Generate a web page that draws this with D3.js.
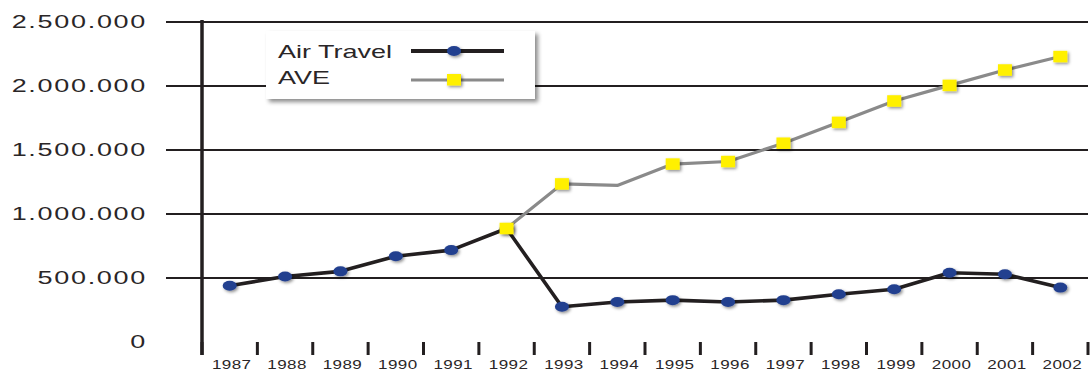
<!DOCTYPE html>
<html>
<head>
<meta charset="utf-8">
<script src="https://cdn.jsdelivr.net/npm/d3@7"></script>
<style>
  html, body { margin: 0; padding: 0; background: #fff; }
  svg { display: block; }
  text { font-family: "Liberation Sans", Arial, sans-serif; fill: #2a2627; }
</style>
</head>
<body>
<svg id="chart" width="1091" height="373"></svg>
<script>
// Passenger volumes per year
const years = ["1987","1988","1989","1990","1991","1992","1993","1994","1995","1996","1997","1998","1999","2000","2001","2002"];
const airTravel = [440000, 512000, 552000, 670000, 718000, 887000, 275000, 313000, 327000, 313000, 327000, 373000, 412000, 541000, 529000, 425000];
const ave = [null, null, null, null, null, 887000, 1235000, 1223000, 1390000, 1410000, 1553000, 1716000, 1883000, 2005000, 2125000, 2230000];
// AVE years that carry a square marker
const aveMarkerYears = ["1992","1993","1995","1996","1997","1998","1999","2000","2001","2002"];
const yTicks = [0, 500000, 1000000, 1500000, 2000000, 2500000];
const seriesNames = ["Air Travel", "AVE"];

const W = 1091, H = 373;
const plot = { left: 202, right: 1088, top: 22, bottom: 342, gridStart: 166 };
const ink = "#231f20", blue = "#213f8f", yellow = "#fff000", grey = "#8a8a8a";
const stretch = 1.42;

const svg = d3.select("#chart");
const defs = svg.append("defs");
const sh = defs.append("filter").attr("id", "mshadow")
  .attr("x", "-60%").attr("y", "-60%").attr("width", "220%").attr("height", "220%");
sh.append("feDropShadow").attr("dx", 1.5).attr("dy", 1.5).attr("stdDeviation", 1.6)
  .attr("flood-color", "#000").attr("flood-opacity", 0.45);
const bsh = defs.append("filter").attr("id", "bshadow")
  .attr("x", "-10%").attr("y", "-20%").attr("width", "130%").attr("height", "160%");
bsh.append("feDropShadow").attr("dx", 3).attr("dy", 3).attr("stdDeviation", 2)
  .attr("flood-color", "#000").attr("flood-opacity", 0.45);

const x = d3.scaleBand().domain(years).range([plot.left, plot.right]);
const y = d3.scaleLinear().domain([0, 2500000]).range([plot.bottom, plot.top]);
const cx = d => x(d) + x.bandwidth() / 2;
const fmt = d3.formatLocale({ decimal: ",", thousands: ".", grouping: [3], currency: ["", ""] }).format(",d");

// Horizontal gridlines
svg.append("g").selectAll("line").data(yTicks.filter(d => d > 0)).join("line")
  .attr("x1", plot.gridStart).attr("x2", plot.right)
  .attr("y1", d => y(d)).attr("y2", d => y(d))
  .attr("stroke", ink).attr("stroke-width", 2);

// Y labels
svg.append("g").selectAll("text").data(yTicks).join("text")
  .attr("transform", d => `translate(147,${y(d) + 5.5}) scale(${stretch},1)`)
  .attr("text-anchor", "end")
  .attr("font-size", 19)
  .attr("letter-spacing", 1.2)
  .text(d => fmt(d));

// Bottom axis
svg.append("line").attr("x1", plot.gridStart).attr("x2", plot.right)
  .attr("y1", plot.bottom).attr("y2", plot.bottom)
  .attr("stroke", ink).attr("stroke-width", 3).attr("filter", "url(#bshadow)");
const tickXs = years.map(d => x(d)).concat([plot.right]);
svg.append("g").selectAll("line").data(tickXs).join("line")
  .attr("x1", d => d).attr("x2", d => d)
  .attr("y1", plot.bottom).attr("y2", plot.bottom + 13)
  .attr("stroke", ink).attr("stroke-width", 3);
svg.append("g").selectAll("text").data(years).join("text")
  .attr("transform", d => `translate(${cx(d) + 2},369) scale(${stretch},1)`)
  .attr("text-anchor", "middle")
  .attr("font-size", 12)
  .attr("letter-spacing", 0.3)
  .text(d => d);

// Vertical axis
svg.append("line").attr("x1", plot.left).attr("x2", plot.left)
  .attr("y1", plot.top - 2).attr("y2", plot.bottom + 13)
  .attr("stroke", ink).attr("stroke-width", 3.5);

// Series lines
const airPts = years.map((d, i) => ({ year: d, v: airTravel[i] }));
const avePts = years.map((d, i) => ({ year: d, v: ave[i] })).filter(p => p.v != null);
const line = d3.line().x(p => cx(p.year)).y(p => y(p.v));

svg.append("path").datum(avePts).attr("d", line)
  .attr("fill", "none").attr("stroke", grey).attr("stroke-width", 3.2).attr("stroke-linejoin", "round");
svg.append("path").datum(airPts).attr("d", line)
  .attr("fill", "none").attr("stroke", ink).attr("stroke-width", 3.6).attr("stroke-linejoin", "round");

// Markers
svg.append("g").attr("filter", "url(#mshadow)")
  .selectAll("ellipse").data(airPts).join("ellipse")
  .attr("cx", p => cx(p.year)).attr("cy", p => y(p.v))
  .attr("rx", 7).attr("ry", 5).attr("fill", blue);
svg.append("g").attr("filter", "url(#mshadow)")
  .selectAll("rect").data(avePts.filter(p => aveMarkerYears.includes(p.year))).join("rect")
  .attr("x", p => cx(p.year) - 7).attr("y", p => y(p.v) - 5.75)
  .attr("width", 14).attr("height", 11.5).attr("fill", yellow);

// Legend
const lg = svg.append("g");
lg.append("rect").attr("x", 266).attr("y", 31).attr("width", 269).attr("height", 68)
  .attr("fill", "#fff").attr("filter", "url(#bshadow)");
const rows = [
  { name: seriesNames[0], ty: 58, ly: 51, color: ink, w: 4 },
  { name: seriesNames[1], ty: 84, ly: 80, color: grey, w: 3.2 }
];
rows.forEach((r, i) => {
  lg.append("text").attr("transform", `translate(278,${r.ty}) scale(${stretch},1)`)
    .attr("font-size", 19).text(r.name);
  lg.append("line").attr("x1", 411).attr("x2", 504).attr("y1", r.ly).attr("y2", r.ly)
    .attr("stroke", r.color).attr("stroke-width", r.w);
});
lg.append("ellipse").attr("cx", 454).attr("cy", 51).attr("rx", 7).attr("ry", 5)
  .attr("fill", blue).attr("filter", "url(#mshadow)");
lg.append("rect").attr("x", 447).attr("y", 74).attr("width", 14).attr("height", 11.5)
  .attr("fill", yellow).attr("filter", "url(#mshadow)");
</script>
</body>
</html>
